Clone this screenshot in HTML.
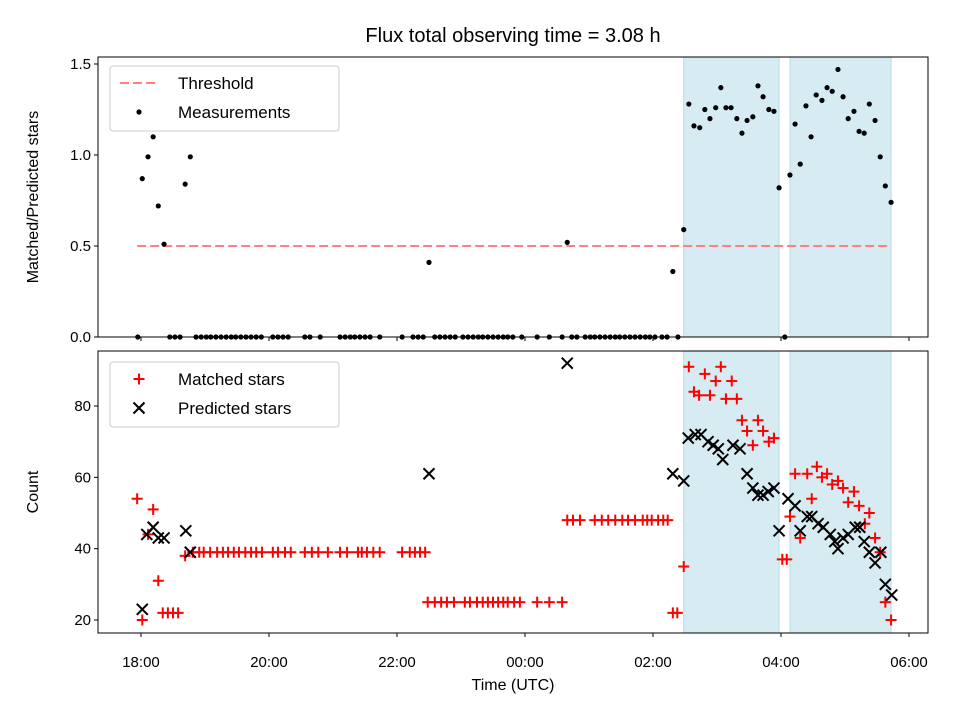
<!DOCTYPE html>
<html><head><meta charset="utf-8"><style>
body{margin:0;background:#fff}
svg text{font-family:"Liberation Sans","DejaVu Sans",sans-serif;fill:#000}
</style></head><body>
<svg id="c" width="960" height="720" xmlns="http://www.w3.org/2000/svg">
<rect width="960" height="720" fill="#fff"/>
<text x="513" y="42" font-size="20" text-anchor="middle">Flux total observing time = 3.08 h</text>
<g id="top"></g>
<g id="bot"></g>
</svg>
<script>
// hours after 18:00 UTC
const shadeStart = [8.48, 10.14];
const shadeEnd = [9.97, 11.72];
const thresholdValue = 0.5;
const thresholdRange = [-0.06, 11.72];
const measTimes = [0.02,0.11,0.19,0.27,0.36,0.69,0.77,4.50,6.66,8.31,8.48,8.56,8.64,8.73,8.81,8.89,8.98,9.06,9.14,9.22,9.31,9.39,9.47,9.56,9.64,9.72,9.81,9.89,9.97,10.06,10.14,10.22,10.30,10.39,10.47,10.55,10.64,10.72,10.80,10.89,10.97,11.05,11.14,11.22,11.30,11.38,11.47,11.55,11.63,11.72];
const measRatio = [0.87,0.99,1.10,0.72,0.51,0.84,0.99,0.41,0.52,0.36,0.59,1.28,1.16,1.15,1.25,1.20,1.26,1.37,1.26,1.26,1.20,1.12,1.19,1.21,1.38,1.32,1.25,1.24,0.82,0,0.89,1.17,0.95,1.27,1.10,1.33,1.30,1.37,1.35,1.47,1.32,1.20,1.24,1.13,1.12,1.28,1.19,0.99,0.83,0.74];
const zeroTimes = [-0.05,0.45,0.53,0.61,0.86,0.94,1.02,1.09,1.17,1.25,1.33,1.41,1.48,1.56,1.64,1.72,1.80,1.88,2.06,2.14,2.22,2.30,2.56,2.64,2.80,3.11,3.19,3.27,3.34,3.42,3.50,3.58,3.73,4.08,4.25,4.33,4.41,4.59,4.67,4.75,4.83,4.91,5.03,5.11,5.19,5.27,5.34,5.42,5.50,5.58,5.66,5.73,5.81,5.95,6.19,6.38,6.58,6.73,6.81,6.94,7.02,7.09,7.17,7.25,7.33,7.41,7.48,7.56,7.64,7.72,7.80,7.88,7.95,8.03,8.14,8.22,8.39];
const matchedTimes = [-0.06,0.02,0.11,0.19,0.27,0.34,0.42,0.50,0.58,0.69,
0.81,0.91,0.98,1.08,1.19,1.28,1.36,1.45,1.53,1.63,1.72,1.80,1.89,2.06,2.14,2.25,2.34,2.56,2.67,2.77,2.92,3.11,3.22,3.39,3.45,3.53,3.63,3.73,4.08,4.20,4.28,4.36,4.44,
4.48,4.59,4.69,4.78,4.89,5.06,5.14,5.25,5.34,5.42,5.50,5.58,5.66,5.73,5.83,5.92,6.19,6.38,6.58,
6.66,6.75,6.86,7.09,7.20,7.30,7.41,7.52,7.61,7.72,7.84,7.91,7.98,8.08,8.16,8.23,
8.31,8.38,8.48,8.56,8.64,8.72,8.81,8.89,8.98,9.06,9.14,9.23,9.31,9.39,9.47,9.56,9.64,9.72,9.81,9.89,10.02,10.09,10.14,10.22,10.30,10.41,10.48,10.56,10.64,10.72,10.80,10.89,10.97,11.05,11.14,11.22,11.31,11.38,11.47,11.55,11.63,11.72];
const matchedCounts = [54,20,44,51,31,22,22,22,22,38,
39,39,39,39,39,39,39,39,39,39,39,39,39,39,39,39,39,39,39,39,39,39,39,39,39,39,39,39,39,39,39,39,39,
25,25,25,25,25,25,25,25,25,25,25,25,25,25,25,25,25,25,25,
48,48,48,48,48,48,48,48,48,48,48,48,48,48,48,48,
22,22,35,91,84,83,89,83,87,91,82,87,82,76,73,69,76,73,70,71,37,37,49,61,43,61,54,63,60,61,58,59,57,53,56,52,47,50,43,39,25,20];
const predTimes = [0.02,0.09,0.19,0.27,0.36,0.70,0.77,4.50,6.66,8.31,8.48,8.55,8.66,8.75,8.86,8.94,9.02,9.09,9.25,9.36,9.47,9.56,9.64,9.72,9.80,9.89,9.97,10.11,10.22,10.30,10.41,10.48,10.58,10.66,10.77,10.84,10.89,10.97,11.05,11.16,11.23,11.30,11.38,11.47,11.56,11.63,11.73];
const predCounts = [23,44,46,43,43,45,39,61,92,61,59,71,72,72,70,69,68,65,69,68,61,57,55,55,56,57,45,54,52,45,49,49,47,46,44,42,40,43,44,46,46,42,39,36,39,30,27];
const xTickHours = [0,2,4,6,8,10,12];
const xTickLabels = ["18:00","20:00","22:00","00:00","02:00","04:00","06:00"];
const topTicks = [0,0.5,1.0,1.5];
const topTickLabels = ["0.0","0.5","1.0","1.5"];
const botTicks = [20,40,60,80];
const botTickLabels = ["20","40","60","80"];

const NS="http://www.w3.org/2000/svg";
const L=98,R=928;
const xs=h=>141+64*h;
const yTop=v=>337-182*v;
const yBot=v=>620-(v-20)*214/60;
function mk(tag,attrs,parent){const e=document.createElementNS(NS,tag);for(const k in attrs)e.setAttribute(k,attrs[k]);parent.appendChild(e);return e;}

function panel(g,top,bot,yf,ticks,labels,ylabel,showX){
  for(let i=0;i<shadeStart.length;i++){
    const r=mk('rect',{x:xs(shadeStart[i]),y:top,width:xs(shadeEnd[i])-xs(shadeStart[i]),height:bot-top,fill:'#d6ebf2',stroke:'#b8dbe6','stroke-width':1},g);
    
    
  }
  const frame=mk('rect',{x:L,y:top,width:R-L,height:bot-top,fill:'none',stroke:'#000','stroke-width':1},g);
  
  
  ticks.forEach((t,i)=>{
    const y=yf(t);
    mk('line',{x1:L-4,x2:L,y1:y,y2:y,stroke:'#000'},g);
    const tx=mk('text',{x:L-7,y:y+5,'font-size':15,'text-anchor':'end'},g);
    tx.textContent=labels[i];
    
    
  });
  xTickHours.forEach((h,i)=>{
    const x=xs(h);
    mk('line',{x1:x,x2:x,y1:bot,y2:bot+4,stroke:'#000'},g);
    if(showX){
      const tx=mk('text',{x:x,y:bot+34,'font-size':15,'text-anchor':'middle'},g);
      tx.textContent=xTickLabels[i];
      
      
    }
  });
  const yl=mk('text',{x:0,y:0,'font-size':16,'text-anchor':'middle',transform:`translate(38,${(top+bot)/2}) rotate(-90)`},g);
  yl.textContent=ylabel;
  
  
}

// top panel
const gt=document.getElementById('top');
panel(gt,57,337,yTop,topTicks,topTickLabels,'Matched/Predicted stars',false);
const th=mk('line',{x1:xs(thresholdRange[0]),x2:xs(thresholdRange[1]),y1:yTop(thresholdValue),y2:yTop(thresholdValue),stroke:'#ff8080','stroke-width':2,'stroke-dasharray':'9,4'},gt);


zeroTimes.forEach(t=>{
  const c=mk('circle',{cx:xs(t),cy:yTop(0),r:2.6,fill:'#000'},gt);
  
  
});
measTimes.forEach((t,i)=>{
  const c=mk('circle',{cx:xs(t),cy:yTop(measRatio[i]),r:2.6,fill:'#000'},gt);
  
  
});

// bottom panel
const gb=document.getElementById('bot');
panel(gb,351,633,yBot,botTicks,botTickLabels,'Count',true);
function plus(x,y,p,name){const g=mk('g',{stroke:'#f00','stroke-width':2},p);
  
  
  mk('line',{x1:x-5.5,x2:x+5.5,y1:y,y2:y},g);mk('line',{x1:x,x2:x,y1:y-5.5,y2:y+5.5},g);}
function cross(x,y,p,name){const g=mk('g',{stroke:'#000','stroke-width':2},p);
  
  
  mk('line',{x1:x-5.5,x2:x+5.5,y1:y-5.5,y2:y+5.5},g);mk('line',{x1:x-5.5,x2:x+5.5,y1:y+5.5,y2:y-5.5},g);}
matchedTimes.forEach((t,i)=>plus(xs(t),yBot(matchedCounts[i]),gb,'matched-star-point'));
predTimes.forEach((t,i)=>cross(xs(t),yBot(predCounts[i]),gb,'predicted-star-point'));

const xt=mk('text',{x:513,y:690,'font-size':16,'text-anchor':'middle'},gb);
xt.textContent='Time (UTC)';



// legends
function legend(p,y0,entries,name){
  const g=mk('g',{},p);
  
  
  mk('rect',{x:110,y:y0,width:229,height:65,rx:3,fill:'#fff','fill-opacity':0.8,stroke:'#ccc'},g);
  entries.forEach((e,i)=>{
    const y=y0+17+i*29;
    e.draw(g,y);
    const t=mk('text',{x:178,y:y+6,'font-size':17},g);
    t.textContent=e.label;
    
    
  });
}
legend(gt,66,[
  {label:'Threshold',draw:(g,y)=>{const l=mk('line',{x1:120,x2:158,y1:y,y2:y,stroke:'#ff8080','stroke-width':2,'stroke-dasharray':'9,4'},g);}},
  {label:'Measurements',draw:(g,y)=>{const c=mk('circle',{cx:139,cy:y,r:2.6,fill:'#000'},g);}}
],'top-legend');
legend(gb,362,[
  {label:'Matched stars',draw:(g,y)=>plus(139,y,g,'legend-matched-swatch')},
  {label:'Predicted stars',draw:(g,y)=>cross(139,y,g,'legend-predicted-swatch')}
],'bottom-legend');
</script>
</body></html>
